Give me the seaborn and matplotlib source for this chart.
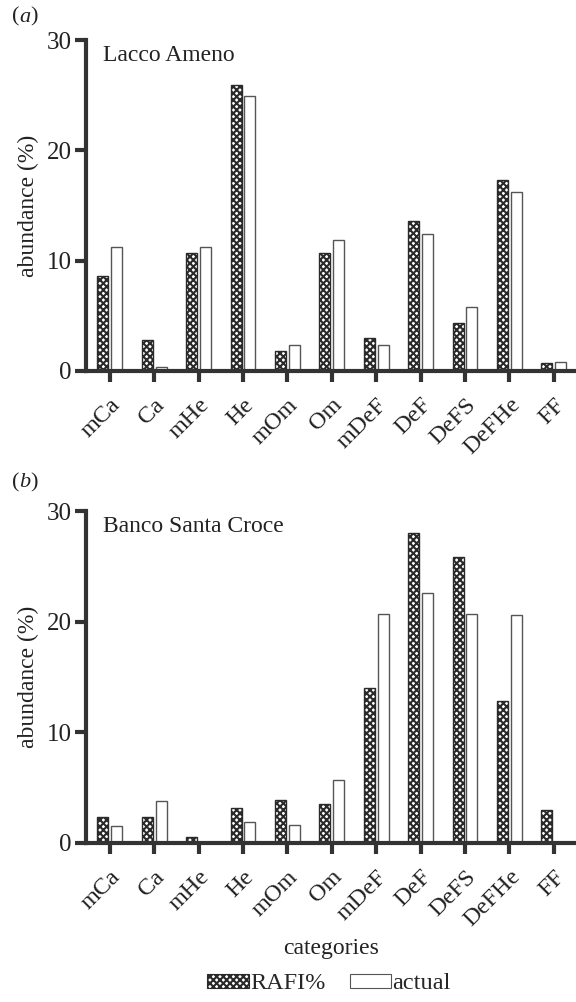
import numpy as np
import pandas as pd
import matplotlib
matplotlib.use("Agg")
from matplotlib import pyplot as plt
from matplotlib.patches import Patch
import seaborn as sns

# Data
categories = ["mCa", "Ca", "mHe", "He", "mOm", "Om", "mDeF", "DeF", "DeFS", "DeFHe", "FF"]
lacco_rafi = [8.6, 2.8, 10.7, 25.9, 1.8, 10.7, 3.0, 13.6, 4.3, 17.3, 0.7]
lacco_actual = [11.2, 0.3, 11.2, 24.9, 2.3, 11.9, 2.3, 12.4, 5.8, 16.2, 0.8]
banco_rafi = [2.3, 2.3, 0.55, 3.1, 3.9, 3.5, 14.0, 28.0, 25.8, 12.8, 3.0]
banco_actual = [1.5, 3.75, 0.0, 1.9, 1.6, 5.7, 20.7, 22.6, 20.7, 20.6, 0.0]
series = ["RAFI%", "actual"]
sites = ["Lacco Ameno", "Banco Santa Croce"]
panel_labels = ["a", "b"]


def long_form(rafi, actual):
    rows = []
    for cat, r, a in zip(categories, rafi, actual):
        rows.append({"category": cat, "series": "RAFI%", "abundance": r})
        rows.append({"category": cat, "series": "actual", "abundance": a})
    return pd.DataFrame(rows)


sns.set_theme(style="ticks")
plt.rcParams["font.family"] = ["Liberation Serif", "DejaVu Serif"]
plt.rcParams["hatch.linewidth"] = 1.5
plt.rcParams["hatch.color"] = "#2a2a2a"

dark = "#333333"
txt = "#222222"
hatch = "xxxxx"

fig = plt.figure(figsize=(5.76, 10.02), dpi=100)
ax_a = fig.add_axes([0.149, 0.630, 0.851, 0.330])
ax_b = fig.add_axes([0.149, 0.159, 0.851, 0.331])
axes = [ax_a, ax_b]
datasets = [(lacco_rafi, lacco_actual), (banco_rafi, banco_actual)]
label_y = [0.983, 0.518]

for ax, (rafi, actual), site, lab, ly in zip(axes, datasets, sites, panel_labels, label_y):
    df = long_form(rafi, actual)
    sns.barplot(data=df, x="category", y="abundance", hue="series", order=categories,
                hue_order=series, palette=["white", "white"], width=0.62, gap=0.2,
                edgecolor="#555555", linewidth=1.0, legend=False, ax=ax)
    for bar in ax.containers[0]:
        bar.set_hatch(hatch)
        bar.set_edgecolor("#2a2a2a")

    ax.set_xlim(-0.54, 10.5)
    ax.set_ylim(0, 30)
    ax.set_yticks([0, 10, 20, 30])
    sns.despine(ax=ax)
    for side in ["left", "bottom"]:
        ax.spines[side].set_linewidth(3)
        ax.spines[side].set_color(dark)
    ax.tick_params(axis="both", width=3, length=8, color=dark, labelcolor=txt)
    ax.tick_params(axis="y", labelsize=18, pad=2)
    ax.tick_params(axis="x", labelsize=17.5, pad=9)
    plt.setp(ax.get_xticklabels(), rotation=45, ha="right", rotation_mode="anchor")
    ax.set_ylabel("abundance (%)", fontsize=17, color=txt, labelpad=6)
    ax.set_xlabel("")
    ax.text(0.035, 0.985, site, transform=ax.transAxes, fontsize=17,
            va="top", ha="left", color=txt)

    # panel letter: (a) / (b) with italic letter
    fig.text(0.021, ly, "(", fontsize=16, va="center", color=txt)
    fig.text(0.033, ly, lab, fontsize=16, va="center", style="italic", color=txt)
    fig.text(0.053, ly, ")", fontsize=16, va="center", color=txt)

ax_b.set_xlabel("categories", fontsize=17, color=txt, labelpad=5)

handles = [Patch(facecolor="white", edgecolor="#2a2a2a", hatch=hatch, linewidth=0.8),
           Patch(facecolor="white", edgecolor="#555555", linewidth=0.8)]
fig.legend(handles, series, loc="center", bbox_to_anchor=(0.571, 0.018), ncol=2,
           frameon=False, fontsize=17.5, handlelength=1.7, handleheight=0.55,
           handletextpad=0.05, columnspacing=1.0)

fig.savefig("out.png", dpi=100)
